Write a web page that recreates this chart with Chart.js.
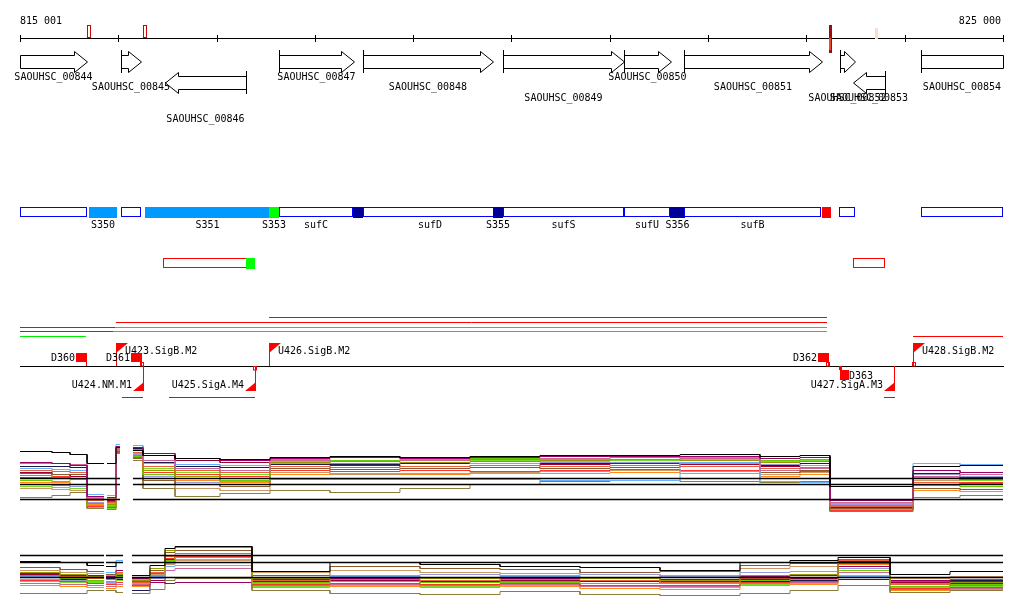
<!DOCTYPE html>
<html><head><meta charset="utf-8">
<script src="https://cdn.jsdelivr.net/npm/chart.js@4/dist/chart.umd.min.js"></script>
<style>html,body{margin:0;padding:0;background:#fff}#wrap{position:relative;width:1024px;height:611px}canvas{display:block}</style>
</head><body><div id="wrap"><canvas id="c" width="1024" height="611"></canvas></div>
<script>
// ---------- DATA ----------
const VIEW_START = 815001, VIEW_END = 825000;
const rulerTicks = [815001, 816000, 817000, 818000, 819000, 820000, 821000, 822000, 823000, 824000, 825000];
const rulerLabels = ['815 001', '825 000'];
const rulerMarkPos = [815703, 816273, 823245, 823705];
const rulerMarkKind = ['open', 'open', 'strong', 'faint'];

const geneNames = ['SAOUHSC_00844','SAOUHSC_00845','SAOUHSC_00846','SAOUHSC_00847','SAOUHSC_00848','SAOUHSC_00849','SAOUHSC_00850','SAOUHSC_00851','SAOUHSC_00852','SAOUHSC_00853','SAOUHSC_00854'];
const geneStart = [814900, 816028, 816475, 817635, 818490, 819913, 821149, 821755, 823339, 823474, 824166];
const geneEnd   = [815683, 816232, 817301, 818398, 819812, 821149, 821627, 823160, 823491, 823800, 825200];
const geneStrand = ['+','+','-','+','+','+','+','+','+','-','+'];

const segStart = [815001, 815703, 816028, 816273, 817534, 817636, 818388, 818490, 819812, 819914, 821145, 821613, 821755, 823159, 823332, 824166];
const segEnd   = [815683, 815988, 816232, 817544, 817636, 818388, 818490, 819853, 819914, 821145, 821613, 821765, 823149, 823250, 823495, 825000];
const segKind  = ['open','ncrna','open','ncrna','green','open','navy','open','navy','open','open','navy','open','red','open','open'];
const segLabel = ['','S350','','S351','S353','sufC','','sufD','S355','sufS','sufU','S356','sufB','','',''];

const seg2Start = [816456, 817300, 823474];
const seg2End   = [817320, 817392, 823800];
const seg2Kind  = ['redopen','green','redopen'];

const tuStart = [817534, 815978, 815001, 815967, 815001, 815947, 815001, 824085];
const tuEnd   = [823210, 823210, 815967, 823210, 815947, 823210, 815672, 825000];
const tuColor = ['red','red','red','green','red','green','green','red'];

const siteNames  = ['D360','U423.SigB.M2','D361','U424.NM.M1','U425.SigA.M4','U426.SigB.M2','D362','D363','U427.SigA.M3','U428.SigB.M2'];
const sitePos    = [815672, 815978, 816232, 816252, 817391, 817534, 823220, 823342, 823891, 824085];
const siteType   = ['term','prom','term','prom','prom','prom','term','term','prom','prom'];
const siteStrand = ['+','+','+','-','-','+','+','-','-','+'];
const siteMarkPos = [816240, 817391, 823215, 824095];
const siteMarkSide = ['up','down','up','up'];
const spanStart = [816038, 816517, 823790];
const spanEnd   = [816252, 817391, 823901];

// expression panel 1: segment boundaries (bp) and per-series segment values (log2)
const p1Pos = [815001,815326,815510,815683,815856,815886,815978,816018,816150,816252,816578,817035,817544,818154,818866,819578,820290,821002,821715,822528,822935,823240,824085,824563,825000];
const p1Black    = [14.9,14.8,14.6,13.7,null,13.7,15.3,null,15.0,14.5,14.2,14.1,14.3,14.4,14.3,14.4,14.5,14.5,14.6,14.4,14.5,11.4,13.4,13.5];
const p1Magenta  = [13.8,13.7,13.5,10.4,null,10.3,15.4,null,15.3,14.7,14.2,14.0,14.2,14.3,14.2,14.3,14.4,14.4,14.4,14.2,14.3,10.0,13.0,12.8];
const p1Pink     = [13.7,13.7,13.6,10.2,null,10.1,15.2,null,15.1,14.0,13.2,13.0,14.0,13.9,14.0,14.1,14.2,14.3,14.2,13.0,13.2,9.8,12.4,12.6];
const p1Coral    = [13.0,12.9,12.8,10.0,null,9.8,15.1,null,14.8,13.4,13.0,12.8,13.4,13.3,13.4,13.5,13.4,13.5,13.4,13.2,13.3,9.4,11.8,11.7];
const p1Olive    = [12.5,12.3,12.2,9.7,null,9.6,15.0,null,14.5,13.0,12.4,12.2,13.8,13.7,13.8,13.9,14.0,14.1,14.0,13.8,13.9,9.5,12.2,12.1];
const p1Green    = [12.0,11.9,12.1,9.5,null,9.4,15.0,null,14.4,12.6,12.2,12.0,14.1,14.0,14.1,14.2,14.1,14.3,14.3,14.0,14.1,10.1,11.5,11.4];
const p1Sky      = [13.2,13.1,13.0,10.6,null,10.5,15.6,null,15.5,13.7,13.6,13.5,12.1,12.1,12.1,12.1,12.0,12.0,13.8,11.9,11.8,9.7,13.7,13.6];
const p1Brown    = [12.7,12.6,12.6,10.0,null,9.9,14.9,null,14.2,12.0,11.6,11.4,13.2,13.1,13.2,13.3,13.2,13.3,13.4,12.8,13.0,9.2,11.2,11.1];
const p1Lavender = [11.6,11.5,11.4,9.8,null,9.7,15.0,null,14.6,12.4,11.8,11.9,13.7,13.7,13.8,13.7,13.8,13.8,13.7,13.6,13.5,9.6,12.6,12.4];
const p1Khaki    = [10.3,10.5,10.8,9.2,null,9.1,14.7,null,14.0,11.2,10.4,10.7,11.0,10.8,11.2,11.6,11.9,12.0,11.9,11.8,11.9,8.9,10.3,10.5];
const p1Red      = [12.3,12.4,12.2,9.4,null,9.3,14.8,null,14.3,12.8,12.6,12.4,13.0,12.9,13.0,12.9,13.0,13.1,13.0,12.8,12.9,9.0,11.6,11.8];
const p1Navy     = [13.4,13.4,13.3,11.6,null,11.6,15.4,null,15.2,13.8,13.4,13.3,13.6,13.6,13.7,13.7,13.7,13.8,13.8,13.5,13.7,11.4,12.7,12.8];
const p1Tan      = [11.2,11.1,11.0,10.3,null,10.2,15.1,null,14.7,11.6,11.2,11.0,12.8,12.6,12.7,12.8,12.9,13.0,12.9,12.6,12.8,10.0,12.0,12.2];
const p1DarkRed  = [12.8,12.6,12.4,10.1,null,10.0,15.3,null,15.2,14.5,14.0,13.8,13.4,13.5,13.4,13.5,13.6,13.7,13.6,13.4,13.5,9.3,12.4,12.3];
const p1Orange   = [11.8,11.8,11.6,9.6,null,9.5,14.9,null,14.4,12.2,12.0,11.8,12.6,12.7,12.6,12.7,12.7,12.8,12.7,12.4,12.6,9.1,11.0,10.9];
const p1Lime     = [11.4,11.3,11.2,9.3,null,9.2,15.1,null,14.6,13.2,12.8,12.6,13.9,13.9,14.0,14.0,13.9,14.0,14.1,13.9,14.0,10.0,12.3,12.0];
const p1Ref = [12.2, 11.6, 10.1];
const p1Gaps = [[816018, 816150]];

// expression panel 2
const p2Pos = [815001,815408,815683,815856,815876,815978,816049,816140,816323,816476,816578,817361,818154,819070,819884,820697,821511,822325,822833,823322,823851,824461,825000];
const p2Black    = [13.9,13.8,13.5,null,13.4,13.8,null,12.5,13.5,15.2,15.4,12.9,13.8,13.6,13.4,13.3,13.0,13.8,14.0,14.3,12.6,12.9];
const p2Olive    = [12.8,12.6,12.4,null,12.3,12.6,null,12.0,13.2,15.0,15.3,12.2,12.3,12.2,12.1,12.2,12.0,12.5,12.6,13.8,11.7,11.8];
const p2Coral    = [12.5,12.4,12.2,null,12.1,12.8,null,11.8,12.8,14.4,14.7,12.0,12.1,12.0,11.9,12.0,11.8,12.2,12.3,14.0,11.6,11.5];
const p2Green    = [12.3,12.2,12.0,null,11.9,12.4,null,12.0,12.5,14.0,14.3,11.8,11.9,11.8,11.8,11.7,11.7,12.0,12.1,13.0,11.4,11.6];
const p2Magenta  = [12.7,12.6,12.5,null,12.4,13.0,null,12.2,11.8,11.7,11.8,12.1,12.2,12.3,12.2,12.3,12.1,12.4,12.5,13.4,12.0,11.9];
const p2Sky      = [12.4,12.3,12.2,null,12.8,14.0,null,12.3,12.4,13.4,13.5,12.3,12.4,12.3,12.4,12.3,12.3,12.5,12.6,12.4,12.3,12.3];
const p2Lavender = [12.1,12.0,11.9,null,11.8,12.2,null,11.7,12.2,13.7,13.8,11.7,12.5,12.6,12.5,12.6,12.4,12.8,12.9,13.2,11.7,11.8];
const p2Khaki    = [10.7,10.7,11.0,null,11.0,10.8,null,10.7,11.1,12.0,12.2,11.0,10.7,10.6,10.9,10.6,10.5,10.7,11.0,11.5,10.8,11.0];
const p2Brown    = [13.3,13.1,12.9,null,12.6,13.0,null,11.9,13.0,14.8,15.0,12.5,13.4,13.2,13.1,12.8,12.9,13.5,13.7,13.7,11.9,12.1];
const p2Red      = [12.0,11.9,11.7,null,11.6,11.8,null,11.5,12.7,14.2,14.4,11.6,11.7,11.6,11.7,11.5,11.5,11.8,11.9,14.1,11.2,11.3];
const p2Navy     = [12.1,12.1,12.2,null,12.2,12.1,null,11.0,12.2,12.3,12.3,11.8,11.9,11.8,11.9,12.0,11.8,11.9,12.0,12.1,12.0,12.0];
const p2Pink     = [11.7,11.6,11.5,null,11.4,11.6,null,11.6,12.4,13.0,13.2,11.5,11.6,11.5,11.6,11.4,11.4,11.7,11.8,12.8,11.1,11.2];
const p2Tan      = [13.0,12.8,12.7,null,12.5,12.7,null,12.1,12.6,13.6,14.0,12.8,13.0,12.8,12.7,12.6,12.5,13.2,13.4,13.4,12.2,12.4];
const p2Orange   = [11.5,11.4,11.3,null,11.2,11.4,null,11.4,12.3,13.8,14.0,11.3,11.4,11.3,11.4,11.2,11.1,11.5,11.6,13.6,11.0,11.1];
const p2Lime     = [11.9,11.8,11.8,null,11.7,12.0,null,11.7,12.6,13.9,14.1,11.4,11.5,11.4,11.5,11.4,11.3,11.6,11.7,12.5,11.3,11.4];
const p2DarkRed  = [12.6,12.5,12.3,null,12.2,12.5,null,12.0,12.0,14.1,14.5,11.9,12.0,11.9,12.0,11.9,11.9,12.1,12.2,13.9,11.8,11.7];
const p2Ref = [14.5, 13.8, 12.3];
const p2Gaps = [[815856, 815876], [816049, 816140]];

// ---------- STYLE / LAYOUT ----------
const FONT = '10px "DejaVu Sans Mono", "Liberation Mono", monospace';
const seriesColors = {
  Black:'#000000', Magenta:'#990066', Pink:'#cc6699', Coral:'#e8603c', Olive:'#999900', Green:'#66cc00',
  Sky:'#66b2ff', Brown:'#8b5a2b', Lavender:'#9999dd', Khaki:'#8b7d3a', Red:'#ff3333', Navy:'#1a1a4d',
  Tan:'#cc9966', DarkRed:'#990033', Orange:'#ff8c1a', Lime:'#77dd22'
};
const p1Series = {Black:p1Black, Magenta:p1Magenta, Pink:p1Pink, Coral:p1Coral, Olive:p1Olive, Green:p1Green, Sky:p1Sky, Brown:p1Brown, Lavender:p1Lavender, Khaki:p1Khaki, Red:p1Red, Navy:p1Navy, Tan:p1Tan, DarkRed:p1DarkRed, Orange:p1Orange, Lime:p1Lime};
const p2Series = {Black:p2Black, Olive:p2Olive, Coral:p2Coral, Green:p2Green, Magenta:p2Magenta, Sky:p2Sky, Lavender:p2Lavender, Khaki:p2Khaki, Brown:p2Brown, Red:p2Red, Navy:p2Navy, Pink:p2Pink, Tan:p2Tan, Orange:p2Orange, Lime:p2Lime, DarkRed:p2DarkRed};
const geneLabelLane = [0,1,4,0,1,2,0,1,2,2,1];
const laneBaseline = [80, 89.5, 101, 111.5, 122];
const tuLane = [0,1,2,2,3,3,4,4];
const tuLaneY = [317, 322, 327, 331, 336];
const CANVAS_H = 611;

function bandAxis(pTop, pBot, vTop, vBot) {
  const s = (vTop - vBot) / (pBot - pTop);
  return { type: 'linear', display: false, max: vTop + pTop * s, min: vBot - (CANVAS_H - pBot) * s };
}
function stepPoints(pos, vals) {
  const pts = [];
  for (let i = 0; i < vals.length; i++) {
    if (vals[i] === null) { pts.push({x: pos[i], y: null}); continue; }
    pts.push({x: pos[i], y: vals[i]});
    pts.push({x: pos[i + 1], y: vals[i]});
  }
  return pts;
}
function refPoints(v, gaps) {
  const pts = [{x: VIEW_START, y: v}];
  gaps.forEach(g => { pts.push({x: g[0], y: v}); pts.push({x: (g[0] + g[1]) / 2, y: null}); pts.push({x: g[1], y: v}); });
  pts.push({x: VIEW_END, y: v});
  return pts;
}
const datasets = [];
function addPanel(refs, gaps, pos, series, axis) {
  refs.forEach(v => datasets.push({data: refPoints(v, gaps), borderColor: '#000', borderWidth: 1.5, yAxisID: axis}));
  Object.keys(series).forEach(k => datasets.push({label: k, data: stepPoints(pos, series[k]), borderColor: seriesColors[k], borderWidth: 1, yAxisID: axis}));
}
addPanel(p1Ref, p1Gaps, p1Pos, p1Series, 'y1');
addPanel(p2Ref, p2Gaps, p2Pos, p2Series, 'y2');

const tracksPlugin = {
  id: 'tracks',
  afterDraw(chart) {
    const ctx = chart.ctx, xs = chart.scales.x;
    const X = v => Math.round(xs.getPixelForValue(Math.max(VIEW_START, Math.min(VIEW_END, v))));
    const hline = (x1, x2, y, c) => { ctx.strokeStyle = c; ctx.beginPath(); ctx.moveTo(x1, y + 0.5); ctx.lineTo(x2, y + 0.5); ctx.stroke(); };
    const vline = (x, y1, y2, c) => { ctx.strokeStyle = c; ctx.beginPath(); ctx.moveTo(x + 0.5, y1); ctx.lineTo(x + 0.5, y2); ctx.stroke(); };
    ctx.save();
    ctx.lineWidth = 1; ctx.font = FONT; ctx.textBaseline = 'alphabetic'; ctx.fillStyle = '#000';

    // ruler
    hline(X(VIEW_START), X(VIEW_END) + 1, 38, '#000');
    rulerTicks.forEach(t => vline(X(t), 35, 42, '#000'));
    ctx.fillStyle = '#000';
    ctx.textAlign = 'left'; ctx.fillText(rulerLabels[0], X(VIEW_START), 24);
    ctx.textAlign = 'right'; ctx.fillText(rulerLabels[1], X(VIEW_END) - 2, 24);
    rulerMarkPos.forEach((p, i) => {
      const x = X(p), k = rulerMarkKind[i];
      if (k === 'open') { ctx.strokeStyle = '#cc0000'; ctx.strokeRect(x - 1.5, 25.5, 3, 12); }
      else if (k === 'strong') { ctx.fillStyle = '#a00c0c'; ctx.fillRect(x - 1, 25, 3, 28); ctx.fillStyle = '#ee4a30'; ctx.fillRect(x - 1, 38, 2, 12); }
      else { ctx.fillStyle = '#f8dcd0'; ctx.fillRect(x - 1, 28, 3, 11); }
    });

    // genes
    geneNames.forEach((name, i) => {
      const cs = geneStart[i] < VIEW_START, ce = geneEnd[i] > VIEW_END;
      const x1 = X(geneStart[i]), x2 = X(geneEnd[i]);
      const fwd = geneStrand[i] === '+';
      const off = fwd ? 0 : 21;
      const bt = 55 + off + 0.5, bb = 68 + off + 0.5, ht = 51 + off + 0.5, hb = 72 + off + 0.5, mid = 61.5 + off + 0.5;
      const H = Math.min(13, Math.round((x2 - x1) * 0.75));
      ctx.beginPath();
      if (fwd) {
        ctx.moveTo(x1 + 0.5, bt);
        if (ce) { ctx.lineTo(x2 + 0.5, bt); ctx.lineTo(x2 + 0.5, bb); }
        else { ctx.lineTo(x2 - H + 0.5, bt); ctx.lineTo(x2 - H + 0.5, ht); ctx.lineTo(x2 + 0.5, mid); ctx.lineTo(x2 - H + 0.5, hb); ctx.lineTo(x2 - H + 0.5, bb); }
        ctx.lineTo(x1 + 0.5, bb);
      } else {
        ctx.moveTo(x2 + 0.5, bt);
        if (cs) { ctx.lineTo(x1 + 0.5, bt); ctx.lineTo(x1 + 0.5, bb); }
        else { ctx.lineTo(x1 + H + 0.5, bt); ctx.lineTo(x1 + H + 0.5, ht); ctx.lineTo(x1 + 0.5, mid); ctx.lineTo(x1 + H + 0.5, hb); ctx.lineTo(x1 + H + 0.5, bb); }
        ctx.lineTo(x2 + 0.5, bb);
      }
      ctx.closePath();
      ctx.fillStyle = '#fff'; ctx.fill(); ctx.strokeStyle = '#000'; ctx.stroke();
      if (fwd && !cs) vline(x1, 50 + off, 73 + off, '#000');
      if (!fwd && !ce) vline(x2, 50 + off, 73 + off, '#000');
      ctx.fillStyle = '#000'; ctx.textAlign = 'center';
      ctx.fillText(name, (x1 + x2) / 2, laneBaseline[geneLabelLane[i]]);
    });

    // segments
    const segFill = {ncrna: '#0099ff', green: '#00ff00', navy: '#000099', red: '#ff0000'};
    segStart.forEach((s, i) => {
      const x1 = X(s), x2 = X(segEnd[i]), k = segKind[i];
      if (k === 'open') { ctx.fillStyle = '#fff'; ctx.fillRect(x1, 207, x2 - x1, 10); ctx.strokeStyle = '#0000ff'; ctx.strokeRect(x1 + 0.5, 207.5, x2 - x1 - 1, 9); }
      else { ctx.fillStyle = segFill[k]; ctx.fillRect(x1, 207, x2 - x1, 11); }
    });
    segStart.forEach((s, i) => {
      if (!segLabel[i]) return;
      ctx.fillStyle = '#000'; ctx.textAlign = 'center';
      ctx.fillText(segLabel[i], (X(s) + X(segEnd[i])) / 2, 228);
    });
    seg2Start.forEach((s, i) => {
      const x1 = X(s), x2 = X(seg2End[i]);
      if (seg2Kind[i] === 'redopen') { ctx.strokeStyle = '#ff0000'; ctx.strokeRect(x1 + 0.5, 258.5, x2 - x1 - 1, 9); }
      else { ctx.fillStyle = '#00ff00'; ctx.fillRect(x1, 258, x2 - x1, 11); }
    });

    // transcription unit lines
    const tuCol = {red: '#ff0000', green: '#00ee00'};
    tuStart.forEach((s, i) => hline(X(s), X(tuEnd[i]), tuLaneY[tuLane[i]], tuCol[tuColor[i]]));

    // promoter / terminator track
    hline(X(VIEW_START), X(VIEW_END) + 1, 366, '#000');
    spanStart.forEach((s, i) => hline(X(s), X(spanEnd[i]), 397, '#ff0000'));
    siteMarkPos.forEach((p, i) => {
      const x = X(p); ctx.strokeStyle = '#ff0000';
      if (siteMarkSide[i] === 'up') ctx.strokeRect(x - 1.5, 362.5, 3, 3.5); else ctx.strokeRect(x - 1.5, 366.5, 3, 3.5);
    });
    siteNames.forEach((name, i) => {
      const x = X(sitePos[i]), fwd = siteStrand[i] === '+';
      ctx.fillStyle = '#ff0000';
      if (siteType[i] === 'term') {
        if (fwd) {
          ctx.fillRect(x - 10, 353, 11, 9); vline(x, 361, 366, '#ff0000');
          ctx.fillStyle = '#000'; ctx.textAlign = 'right'; ctx.fillText(name, x - 11, 361);
        } else {
          ctx.fillRect(x - 1, 366, 3, 4); ctx.fillRect(x, 370, 9, 10);
          ctx.fillStyle = '#000'; ctx.textAlign = 'left'; ctx.fillText(name, x + 9, 379);
        }
      } else {
        if (fwd) {
          vline(x, 343, 366, '#ff0000');
          ctx.fillStyle = '#ff0000'; ctx.beginPath(); ctx.moveTo(x, 343); ctx.lineTo(x + 12, 343); ctx.lineTo(x, 353); ctx.closePath(); ctx.fill();
          ctx.fillStyle = '#000'; ctx.textAlign = 'left'; ctx.fillText(name, x + 9, 354);
        } else {
          vline(x, 366, 391, '#ff0000');
          ctx.fillStyle = '#ff0000'; ctx.beginPath(); ctx.moveTo(x + 1, 382); ctx.lineTo(x + 1, 391); ctx.lineTo(x - 10, 391); ctx.closePath(); ctx.fill();
          ctx.fillStyle = '#000'; ctx.textAlign = 'right'; ctx.fillText(name, x - 11, 388);
        }
      }
    });
    ctx.restore();
  }
};

new Chart(document.getElementById('c'), {
  type: 'line',
  data: { datasets },
  options: {
    responsive: false, animation: false, events: [],
    layout: { padding: { left: 20, right: 21, top: 0, bottom: 0 } },
    elements: { point: { radius: 0 }, line: { tension: 0 } },
    spanGaps: false,
    plugins: { legend: { display: false }, tooltip: { enabled: false } },
    scales: {
      x: { type: 'linear', display: false, min: VIEW_START, max: VIEW_END },
      y1: bandAxis(430.5, 520.5, 17, 8),
      y2: bandAxis(540.5, 605.5, 16, 9.5)
    }
  },
  plugins: [tracksPlugin]
});
</script>
</body></html>
